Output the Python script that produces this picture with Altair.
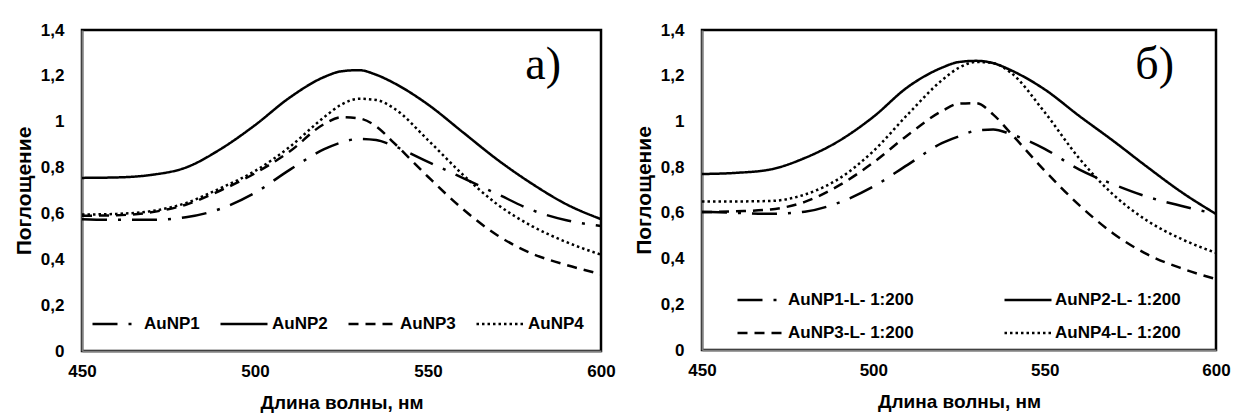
import altair as alt
import pandas as pd

wl = [450, 460, 470, 480, 490, 500, 510, 520, 525, 530, 535, 540, 550, 560, 570, 580, 590, 600]

# Panel a)
a_np1 = [0.575, 0.572, 0.572, 0.583, 0.62, 0.69, 0.79, 0.88, 0.91, 0.925, 0.92, 0.895, 0.825, 0.755, 0.685, 0.615, 0.57, 0.545]
a_np2 = [0.755, 0.757, 0.768, 0.80, 0.88, 0.985, 1.105, 1.195, 1.22, 1.225, 1.205, 1.17, 1.075, 0.955, 0.835, 0.73, 0.64, 0.575]
a_np3 = [0.59, 0.592, 0.605, 0.638, 0.70, 0.775, 0.87, 0.99, 1.02, 1.015, 0.98, 0.91, 0.76, 0.62, 0.505, 0.425, 0.375, 0.335]
a_np4 = [0.595, 0.598, 0.61, 0.645, 0.71, 0.785, 0.89, 1.02, 1.075, 1.10, 1.095, 1.06, 0.92, 0.77, 0.64, 0.545, 0.475, 0.42]

# Panel б)
b_np1 = [0.605, 0.60, 0.596, 0.605, 0.645, 0.715, 0.81, 0.905, 0.935, 0.96, 0.965, 0.945, 0.88, 0.79, 0.725, 0.67, 0.63, 0.595]
b_np2 = [0.77, 0.775, 0.79, 0.84, 0.915, 1.02, 1.15, 1.235, 1.26, 1.265, 1.255, 1.225, 1.14, 1.025, 0.915, 0.80, 0.69, 0.595]
b_np3 = [0.603, 0.607, 0.615, 0.648, 0.72, 0.82, 0.94, 1.045, 1.078, 1.08, 1.03, 0.95, 0.785, 0.635, 0.51, 0.418, 0.357, 0.31]
b_np4 = [0.65, 0.65, 0.652, 0.68, 0.75, 0.87, 1.03, 1.18, 1.235, 1.26, 1.255, 1.215, 1.04, 0.84, 0.68, 0.565, 0.485, 0.425]

names_a = ["AuNP1", "AuNP2", "AuNP3", "AuNP4"]
names_b = ["AuNP1-L- 1:200", "AuNP2-L- 1:200", "AuNP3-L- 1:200", "AuNP4-L- 1:200"]
dashes = [[25, 11, 3, 11], [1, 0], [10, 7], [2.5, 3]]

x_ticks = [450, 500, 550, 600]
y_ticks = [0, 0.2, 0.4, 0.6, 0.8, 1.0, 1.2, 1.4]


def long(names, series):
    rows = []
    for n, s in zip(names, series):
        for w, v in zip(wl, s):
            rows.append({"wl": w, "v": v, "series": n})
    return pd.DataFrame(rows)


df_a = long(names_a, [a_np1, a_np2, a_np3, a_np4])
df_b = long(names_b, [b_np1, b_np2, b_np3, b_np4])

FONT = "Liberation Sans"


def panel(df, names, letter, w, h, legend, lx):
    x = alt.X("wl:Q", scale=alt.Scale(domain=[450, 600], nice=False),
              axis=alt.Axis(values=x_ticks, title="Длина волны, нм", ticks=False,
                            domain=True, domainColor="#808080", domainWidth=2,
                            grid=False, labelPadding=12, titlePadding=14,
                            labelFont=FONT, labelFontSize=17, labelFontWeight="bold",
                            titleFont=FONT, titleFontSize=19, titleFontWeight="bold",
                            labelColor="black", titleColor="black", labelFlush=False))
    y = alt.Y("v:Q", scale=alt.Scale(domain=[0, 1.4], nice=False),
              axis=alt.Axis(values=y_ticks, title="Поглощение", ticks=False,
                            domain=True, domainColor="#808080", domainWidth=2,
                            grid=False, labelPadding=18, titlePadding=6,
                            labelExpr="replace(format(datum.value, '.1~f'), '.', ',')",
                            labelFont=FONT, labelFontSize=17, labelFontWeight="bold",
                            titleFont=FONT, titleFontSize=21, titleFontWeight="bold",
                            labelColor="black", titleColor="black"))
    lines = alt.Chart(df).mark_line(color="black", strokeWidth=2.5, interpolate="monotone",
                                    strokeCap="butt").encode(
        x=x, y=y,
        strokeDash=alt.StrokeDash("series:N", scale=alt.Scale(domain=names, range=dashes),
                                  legend=legend),
        detail="series:N",
    )
    lab = alt.Chart(pd.DataFrame({"t": [letter]})).mark_text(
        font="Liberation Serif", fontSize=46, align="right", baseline="alphabetic", color="black"
    ).encode(text="t:N", x=alt.value(w - lx), y=alt.value(49))
    return alt.layer(lines, lab).properties(width=w, height=h)


leg_a = alt.Legend(title=None, orient="none", legendX=9, legendY=269, columns=4,
                   direction="horizontal", symbolType="stroke", symbolSize=2209,
                   symbolStrokeWidth=2.5, symbolStrokeColor="black",
                   labelFont=FONT, labelFontSize=17, labelFontWeight="bold", labelColor="black",
                   labelOffset=3, columnPadding=15, padding=0, labelLimit=300)
leg_b = alt.Legend(title=None, orient="none", legendX=34, legendY=245, columns=2,
                   direction="horizontal", symbolType="stroke", symbolSize=2209,
                   symbolStrokeWidth=2.5, symbolStrokeColor="black",
                   labelFont=FONT, labelFontSize=17, labelFontWeight="bold", labelColor="black",
                   labelOffset=2, columnPadding=85, rowPadding=-13, padding=0, labelLimit=300)

left = panel(df_a, names_a, "а)", 519, 321, leg_a, 40)
right = panel(df_b, names_b, "б)", 514, 320, leg_b, 42)

chart = alt.hconcat(left, right, spacing=15).resolve_scale(
    strokeDash="independent").resolve_legend(strokeDash="independent").configure_view(
    stroke="black", strokeWidth=2.5).properties(
    padding={"left": 12, "top": 19, "right": 2, "bottom": 0}, background="white")

chart.save("out.html", embed_options={"renderer": "svg", "actions": False})
